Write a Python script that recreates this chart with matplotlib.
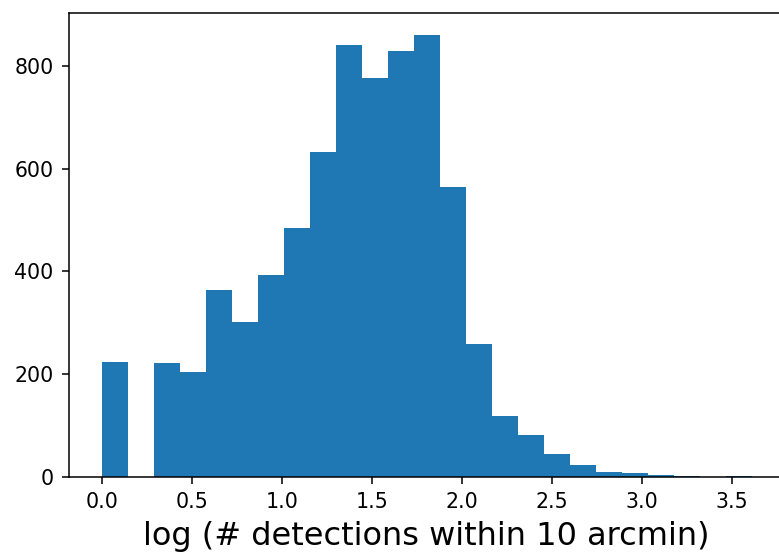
import matplotlib
matplotlib.use('Agg')
import matplotlib.pyplot as plt
import numpy as np

# histogram of log10(# detections within 10 arcmin), 25 bins over [0, 3.611]
LOG_MIN = 0.0
LOG_MAX = 3.611
N_BINS = 25
counts = [224, 0, 222, 204, 364, 301, 393, 485, 633, 842,
          777, 830, 861, 564, 259, 118, 81, 44, 22, 9,
          7, 3, 1, 0, 1]

edges = np.linspace(LOG_MIN, LOG_MAX, N_BINS + 1)
centers = 0.5 * (edges[:-1] + edges[1:])

fig = plt.figure(figsize=(7.79, 5.56), dpi=100)
# original was cropped on the right, so the axes run past the figure edge
ax = fig.add_axes([0.0888, 0.1426, 0.9179, 0.8346])
ax.hist(centers, bins=edges, weights=counts, color='#1f77b4')

ax.set_xticks([0.0, 0.5, 1.0, 1.5, 2.0, 2.5, 3.0, 3.5])
ax.set_yticks([0, 200, 400, 600, 800])
ax.tick_params(labelsize=14.8, length=5.3, width=1.1, pad=6)
for s in ax.spines.values():
    s.set_linewidth(1.1)
ax.set_xlabel('log (# detections within 10 arcmin)', fontsize=23, labelpad=6)

fig.savefig('out.png', dpi=100)
